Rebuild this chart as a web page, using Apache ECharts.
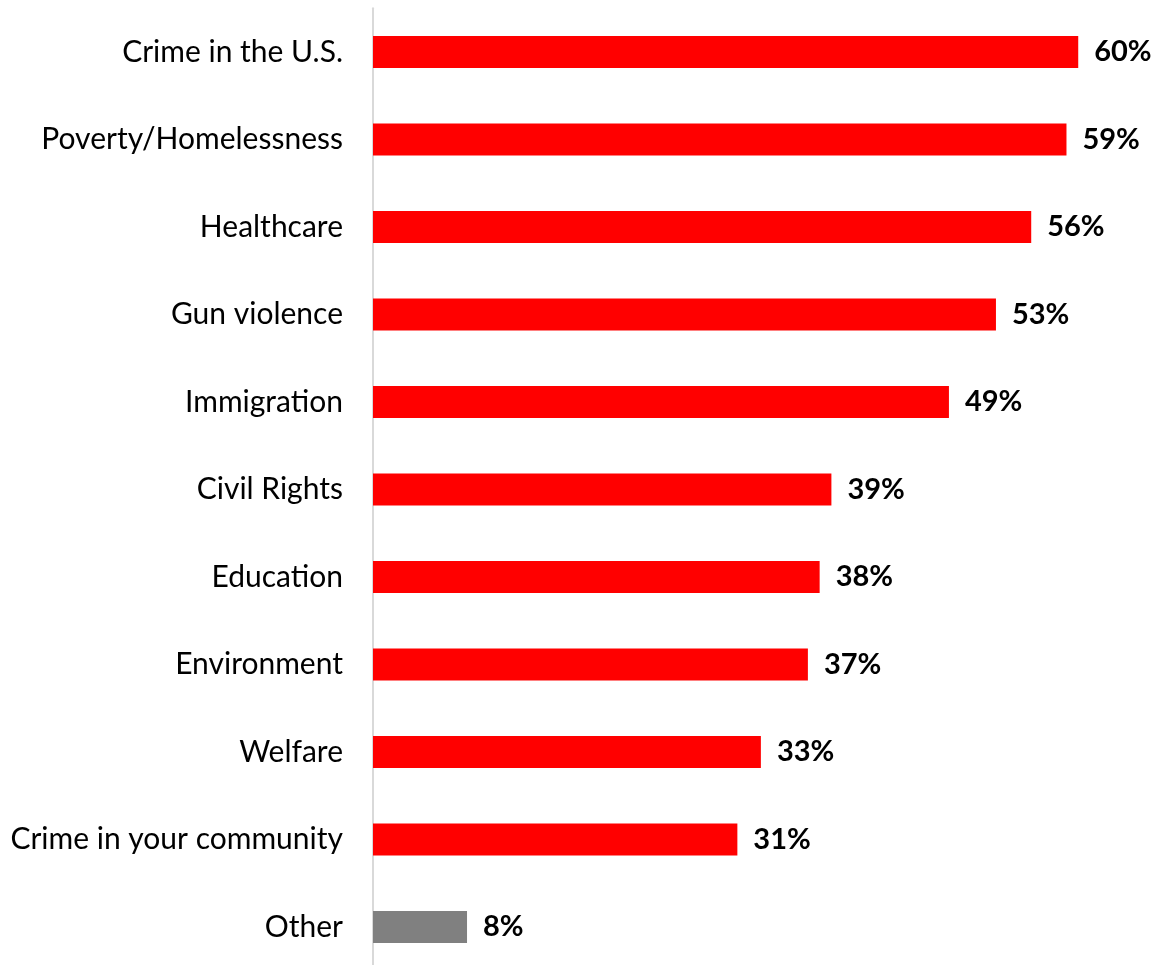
<!DOCTYPE html>
<html>
<head>
<meta charset="utf-8">
<script src="https://cdn.jsdelivr.net/npm/echarts@6/dist/echarts.min.js"></script>
<style>
html,body{margin:0;padding:0;background:#fff;overflow:hidden;}
#chart{width:1154px;height:972px;}
</style>
</head>
<body>
<div id="chart"></div>
<script>
const categories = ["Crime in the U.S.", "Poverty/Homelessness", "Healthcare", "Gun violence", "Immigration", "Civil Rights", "Education", "Environment", "Welfare", "Crime in your community", "Other"];
const values = [60, 59, 56, 53, 49, 39, 38, 37, 33, 31, 8];
const barColors = ["#FF0000", "#FF0000", "#FF0000", "#FF0000", "#FF0000", "#FF0000", "#FF0000", "#FF0000", "#FF0000", "#FF0000", "#808080"];

const chart = echarts.init(document.getElementById('chart'));
const FONT = 'Lato, "Open Sans", sans-serif';
chart.setOption({
  animation: false,
  grid: { left: 373, top: 8.25, height: 962.5, width: 764 },
  xAxis: {
    type: 'value', min: 0, max: 65,
    show: false
  },
  yAxis: {
    type: 'category', data: categories, inverse: true,
    axisLine: { show: true, lineStyle: { color: '#D9D9D9', width: 2 } },
    axisTick: { show: false },
    axisLabel: { color: '#000', fontSize: 30, fontFamily: FONT, margin: 30 }
  },
  series: [{
    type: 'bar',
    barWidth: 32,
    data: values.map((v, i) => ({ value: v, itemStyle: { color: barColors[i] } })),
    label: {
      show: true, position: 'right', distance: 16,
      formatter: p => p.value + '%',
      color: '#000', fontSize: 29, fontWeight: 'bold', fontFamily: FONT
    }
  }]
});
</script>
</body>
</html>
